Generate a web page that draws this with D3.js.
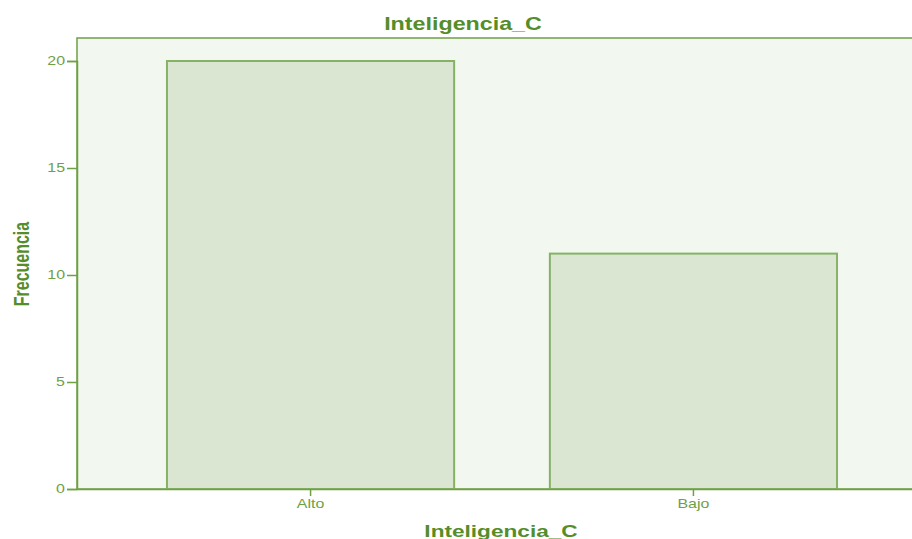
<!DOCTYPE html>
<html>
<head>
<meta charset="utf-8">
<script src="https://cdn.jsdelivr.net/npm/d3@7"></script>
<style>
  body { margin: 0; background: #fff; }
  text { font-family: "Liberation Sans", Arial, sans-serif; }
</style>
</head>
<body>
<div id="chart"></div>
<script>
var categories = ["Alto", "Bajo"];
var frecuencia = [20, 11];
var yTicks = [0, 5, 10, 15, 20];

var W = 912, H = 539;
var margin = {top: 38, left: 77, bottom: 50};
var plotRight = 927; // frame runs past the right edge
var sx = 1.33;       // the original image is stretched sideways

var green = "#548d2a";
var axisGreen = "#6fa045";

var svg = d3.select("#chart").append("svg")
    .attr("width", W)
    .attr("height", H);

var x = d3.scaleBand()
    .domain(categories)
    .range([margin.left, plotRight])
    .paddingInner(0.25)
    .paddingOuter(0.235);

var y = d3.scaleLinear()
    .domain([0, 20])
    .range([H - margin.bottom, 61]);

// plot background + frame
svg.append("rect")
    .attr("x", margin.left)
    .attr("y", margin.top)
    .attr("width", plotRight - margin.left)
    .attr("height", y(0) - margin.top)
    .attr("fill", "#f2f7f0")
    .attr("stroke", axisGreen)
    .attr("stroke-width", 1.5);

// bars
svg.selectAll(".bar")
    .data(frecuencia)
  .enter().append("rect")
    .attr("class", "bar")
    .attr("x", function(d, i) { return x(categories[i]); })
    .attr("width", x.bandwidth())
    .attr("y", function(d) { return y(d); })
    .attr("height", function(d) { return y(0) - y(d); })
    .attr("fill", "#dae6d2")
    .attr("stroke", "#86b266")
    .attr("stroke-width", 2);

// y axis
var yAxis = svg.append("g")
    .attr("transform", "translate(" + margin.left + ",0)")
    .call(d3.axisLeft(y).tickValues(yTicks).tickSize(10).tickPadding(2));
yAxis.select(".domain").attr("stroke", axisGreen).attr("stroke-width", 1.5);
yAxis.selectAll(".tick line").attr("stroke", axisGreen).attr("stroke-width", 1.5);
yAxis.selectAll(".tick text")
    .attr("fill", axisGreen)
    .attr("font-size", "12px")
    .attr("font-family", "Liberation Sans, Arial, sans-serif")
    .attr("x", -12 / sx)
    .attr("transform", "scale(" + sx + ",1)");

// x axis
var xAxis = svg.append("g")
    .attr("transform", "translate(0," + y(0) + ")")
    .call(d3.axisBottom(x).tickSize(7).tickPadding(3).tickSizeOuter(0));
xAxis.select(".domain").attr("stroke", axisGreen).attr("stroke-width", 1.5);
xAxis.selectAll(".tick line").attr("stroke", axisGreen).attr("stroke-width", 1.5);
xAxis.selectAll(".tick text")
    .attr("fill", axisGreen)
    .attr("font-size", "12px")
    .attr("font-family", "Liberation Sans, Arial, sans-serif")
    .attr("transform", "scale(" + sx + ",1)");

// title
svg.append("text")
    .attr("transform", "translate(463,30) scale(" + sx + ",1)")
    .attr("text-anchor", "middle")
    .attr("font-size", "17.5px")
    .attr("font-weight", "bold")
    .attr("fill", green)
    .text("Inteligencia_C");

// x label
svg.append("text")
    .attr("transform", "translate(501,537) scale(" + sx + ",1)")
    .attr("text-anchor", "middle")
    .attr("font-size", "17px")
    .attr("font-weight", "bold")
    .attr("fill", green)
    .text("Inteligencia_C");

// y label
svg.append("text")
    .attr("transform", "translate(29,264) scale(" + sx + ",1) rotate(-90)")
    .attr("text-anchor", "middle")
    .attr("font-size", "16px")
    .attr("font-weight", "bold")
    .attr("fill", green)
    .text("Frecuencia");
</script>
</body>
</html>
